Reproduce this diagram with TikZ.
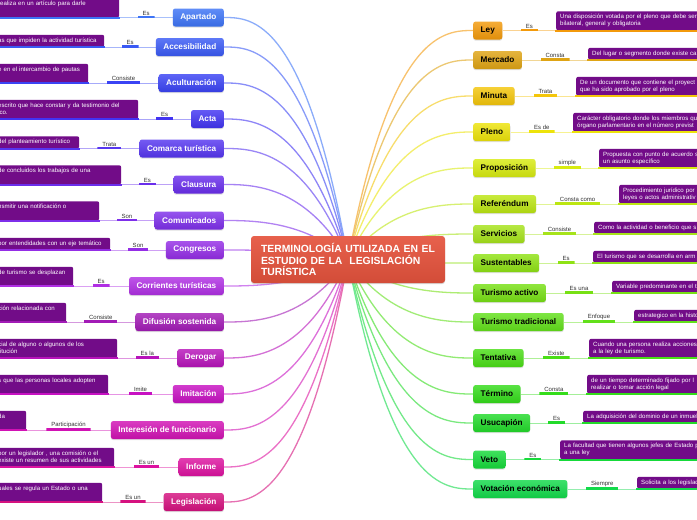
\documentclass[tikz,border=0pt]{standalone}
\usepackage{fontspec}
\setmainfont{Liberation Sans}
\usetikzlibrary{shadows,calc}
\pgfdeclarelayer{bg}
\pgfdeclarelayer{paper}
\pgfsetlayers{paper,bg,main}
\definecolor{L1}{HTML}{3D74F6}
\definecolor{L2}{HTML}{3A5AF5}
\definecolor{L3}{HTML}{3A43F4}
\definecolor{L4}{HTML}{4234F2}
\definecolor{L5}{HTML}{5636F0}
\definecolor{L6}{HTML}{6A2EEC}
\definecolor{L7}{HTML}{7E2FEA}
\definecolor{L8}{HTML}{942DE6}
\definecolor{L9}{HTML}{B02FE4}
\definecolor{L10}{HTML}{A21BB6}
\definecolor{L11}{HTML}{B713BA}
\definecolor{L12}{HTML}{C711C2}
\definecolor{L13}{HTML}{D112B4}
\definecolor{L14}{HTML}{DD12A0}
\definecolor{L15}{HTML}{D5117F}
\definecolor{R1}{HTML}{F39A0B}
\definecolor{R2}{HTML}{DFA414}
\definecolor{R3}{HTML}{F4C60A}
\definecolor{R4}{HTML}{EDE30A}
\definecolor{R5}{HTML}{D8EB10}
\definecolor{R6}{HTML}{BCE612}
\definecolor{R7}{HTML}{A6E31A}
\definecolor{R8}{HTML}{8FE214}
\definecolor{R9}{HTML}{77E014}
\definecolor{R10}{HTML}{62E01A}
\definecolor{R11}{HTML}{4ADE16}
\definecolor{R12}{HTML}{34DC1A}
\definecolor{R13}{HTML}{22DA2A}
\definecolor{R14}{HTML}{16DA3A}
\definecolor{R15}{HTML}{12DA4A}
\definecolor{leafc}{HTML}{720C88}
\definecolor{rootc}{HTML}{E5533D}
\tikzset{
  x=1pt, y=-1pt,
  root/.style={rounded corners=3pt, top color=rootc!92!white, bottom color=rootc!92!black,
    minimum width=194pt, minimum height=47pt, text width=174pt, inner xsep=10pt,
    align=left, text=white, font=\fontsize{10.4}{11.5}\selectfont\bfseries,
    drop shadow={shadow xshift=0pt, shadow yshift=-1.2pt, opacity=0.3}},
  kid/.style={rounded corners=2.5pt, minimum height=18pt, inner xsep=7.5pt, inner ysep=0pt,
    font=\fontsize{8.2}{9}\selectfont\bfseries, top color=#1!82!white, bottom color=#1!92!black,
    drop shadow={shadow xshift=0pt, shadow yshift=-1.2pt, opacity=0.25}},
  leaf/.style={fill=leafc, rounded corners=2pt, text=white, font=\fontsize{6.1}{7}\selectfont,
    inner xsep=4pt, inner ysep=2.5pt, align=left,
    execute at begin node=\strut, execute at end node=\strut},
  lbl/.style={font=\fontsize{6}{7}\selectfont, text=black!80, inner xsep=5pt, inner ysep=3pt,
    anchor=south, yshift=-1.1pt,
    path picture={\fill[#1] ([yshift=2.2pt]path picture bounding box.south west) rectangle (path picture bounding box.south east);}},
  link/.style={draw=#1!45!white, line width=0.9pt},
  rootlink/.style={draw=#1!60!white, line width=1.3pt},
}
% left branch: id, colour, y, title, leaf text width, label, leaf text
\newcommand\lbranch[7]{%
  \node[kid=#2, text=white, anchor=east] (#1) at (224,#3) {#4};
  \node[leaf, anchor=south west, text width=#5] (#1leaf) at (-6,#3) {#7};
  \draw[line width=2pt,#2] (#1leaf.south west) -- ([xshift=1pt]#1leaf.south east);
  \begin{pgfonlayer}{bg}
    \draw[link=#2] (#1.west) -- node[lbl=#2]{#6} (#1leaf.south east);
    \draw[rootlink=#2] (root.center) .. controls (cL |- #1.east) and ([xshift=28pt]#1.east) .. (#1.east);
  \end{pgfonlayer}}
% right branch: id, colour, y, title, leaf left x, label, leaf text
\newcommand\rbranch[7]{%
  \node[kid=#2, text=black, anchor=west] (#1) at (473,#3) {#4};
  \node[leaf, anchor=south west, text width=300pt] (#1leaf) at (#5,#3) {#7};
  \draw[line width=2pt,#2] ([xshift=-1pt]#1leaf.south west) -- (#1leaf.south east);
  \begin{pgfonlayer}{bg}
    \draw[link=#2] (#1.east) -- node[lbl=#2]{#6} (#1leaf.south west);
    \draw[rootlink=#2] (root.center) .. controls (cR |- #1.west) and ([xshift=-28pt]#1.west) .. (#1.west);
  \end{pgfonlayer}}
\begin{document}
\begin{tikzpicture}
\useasboundingbox (0,0) rectangle (697,520);
\begin{pgfonlayer}{paper}
\fill[white] (0,0) rectangle (697,520);
\end{pgfonlayer}
\begin{scope}
\clip (0,0) rectangle (697,520);
\node[root] (root) at (348,259.5) {TERMINOLOGÍA UTILIZADA EN EL\\ESTUDIO DE LA~ LEGISLACIÓN\\TURÍSTICA};
\coordinate (cL) at (305,259.5);
\coordinate (cR) at (391,259.5);

\lbranch{a1}{L1}{17.5}{Apartado}{117pt}{Es}{\mbox{}\\realiza en un artículo para darle\\\mbox{}}
\lbranch{a2}{L2}{47}{Accesibilidad}{102pt}{Es}{as que impiden la actividad turística}
\lbranch{a3}{L3}{83}{Aculturación}{86pt}{Consiste}{e en el intercambio de pautas\\\mbox{}}
\lbranch{a4}{L4}{119}{Acta}{136pt}{Es}{escrito que hace constar y da testimonio del\\ico.}
\lbranch{a5}{L5}{148.5}{Comarca turística}{77pt}{Trata}{del planteamiento turístico}
\lbranch{a6}{L6}{184.5}{Clausura}{119pt}{Es}{de concluidos los trabajos de una\\\mbox{}}
\lbranch{a7}{L7}{220.5}{Comunicados}{97pt}{Son}{nsmitir una notificación o\\\mbox{}}
\lbranch{a8}{L8}{250}{Congresos}{108pt}{Son}{por entendidades con un eje temático}
\lbranch{a9}{L9}{286}{Corrientes turísticas}{71pt}{Es}{de turismo se desplazan\\\mbox{}}
\lbranch{a10}{L10}{322}{Difusión sostenida}{64pt}{Consiste}{ción relacionada con\\\mbox{}}
\lbranch{a11}{L11}{358}{Derogar}{115pt}{Es la}{cial de alguno o algunos de los\\titución}
\lbranch{a12}{L12}{394}{Imitación}{106pt}{Imite}{s que las personas locales adopten\\\mbox{}}
\lbranch{a13}{L13}{430}{Interesión de funcionario}{24pt}{Participación}{da\\\mbox{}}
\lbranch{a14}{L14}{467}{Informe}{112pt}{Es un}{por un legislador , una comisión o el\\existe un resumen de sus actividades}
\lbranch{a15}{L15}{502}{Legislación}{100pt}{Es un}{uales se regula un Estado o una\\\mbox{}}

\rbranch{b1}{R1}{30.5}{Ley}{556}{Es}{Una disposición votada por el pleno que debe ser\\bilateral, general y obligatoria}
\rbranch{b2}{R2}{60}{Mercado}{588}{Consta}{Del lugar o segmento donde existe ca}
\rbranch{b3}{R3}{96}{Minuta}{576}{Trata}{De un documento que contiene el proyect\\que ha sido aprobado por el pleno}
\rbranch{b4}{R4}{132}{Pleno}{573}{Es de}{Carácter obligatorio donde los miembros qu\\órgano parlamentario en el número previst}
\rbranch{b5}{R5}{168}{Proposición}{599}{simple}{Propuesta con punto de acuerdo s\\un asunto específico}
\rbranch{b6}{R6}{204}{Referéndum}{619}{Consta como}{Procedimiento jurídico por\\leyes o actos administrativ}
\rbranch{b7}{R7}{234}{Servicios}{594}{Consiste}{Como la actividad o beneficio que s}
\rbranch{b8}{R8}{263}{Sustentables}{593}{Es}{El turismo que se desarrolla en arm}
\rbranch{b9}{R9}{293}{Turismo activo}{612}{Es una}{Variable predominante en el t}
\rbranch{b10}{R10}{322}{Turismo tradicional}{634}{Enfoque}{estrategico en la histo}
\rbranch{b11}{R11}{358}{Tentativa}{589}{Existe}{Cuando una persona realiza acciones\\a la ley de turismo.}
\rbranch{b12}{R12}{394}{Término}{587}{Consta}{de un tiempo determinado fijado por l\\realizar o tomar acción legal}
\rbranch{b13}{R13}{423}{Usucapión}{583}{Es}{La adquisición del dominio de un inmueb}
\rbranch{b14}{R14}{459.5}{Veto}{560}{Es}{La facultad que tienen algunos jefes de Estado p\\a una ley}
\rbranch{b15}{R15}{489}{Votación económica}{637}{Siempre}{Solicita a los legislad}
\end{scope}
\end{tikzpicture}
\end{document}
